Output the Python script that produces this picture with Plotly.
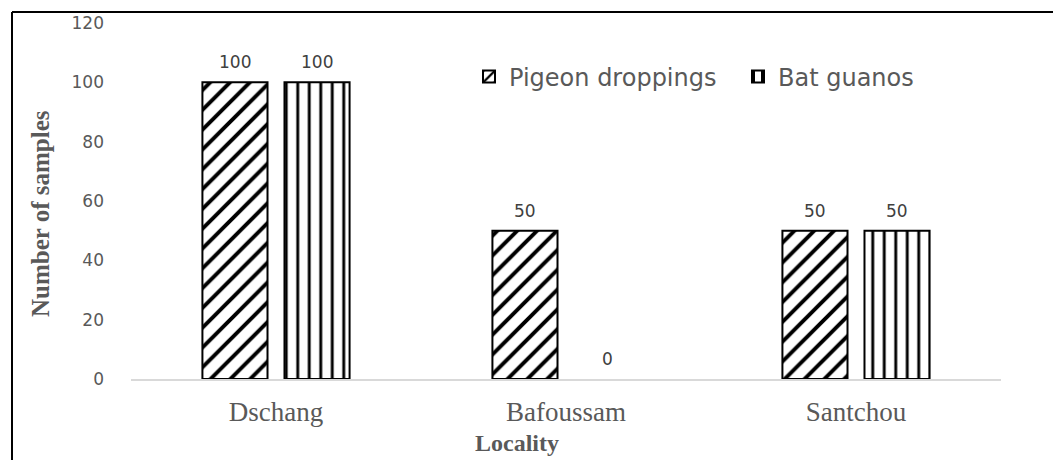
import plotly.graph_objects as go

categories = ["Dschang", "Bafoussam", "Santchou"]
pigeon = [100, 50, 50]
bat = [100, 0, 50]
series_names = ["Pigeon droppings", "Bat guanos"]
y_ticks = [0, 20, 40, 60, 80, 100, 120]

W, H = 1053, 460
L, R, T, B = 131, 52, 23, 81
PW, PH = W - L - R, H - T - B

def px_x(x):
    return (x - L) / PW

def px_y(y):
    return 1 - (y - T) / PH

BARGAP, GROUPGAP = 0.434, 0.207
slot = PW / len(categories)
bar_slot = slot * (1 - BARGAP) / 2
shift = bar_slot / 2

fig = go.Figure()
fig.add_trace(go.Bar(
    x=categories, y=pigeon, name=series_names[0],
    marker=dict(color="white", line=dict(color="black", width=[2 if v else 0 for v in pigeon]),
                pattern=dict(shape="/", fgcolor="black", bgcolor="white",
                             size=14, solidity=0.28, fillmode="replace")),
))
fig.add_trace(go.Bar(
    x=categories, y=bat, name=series_names[1],
    marker=dict(color="white", line=dict(color="black", width=[2 if v else 0 for v in bat]),
                pattern=dict(shape="|", fgcolor="black", bgcolor="white",
                             size=11.5, solidity=0.25, fillmode="replace")),
))

annotations = []
for vals, sgn in ((pigeon, -1), (bat, 1)):
    for c, v in zip(categories, vals):
        annotations.append(dict(
            x=c, y=v, xref="x", yref="y", text=str(v), showarrow=False,
            xshift=sgn * shift, yshift=20, xanchor="center", yanchor="middle",
            font=dict(family="DejaVu Sans", size=17, color="#404040")))

annotations += [
    dict(text="<b>Number of samples</b>", xref="paper", yref="paper",
         x=px_x(40), y=px_y(214), textangle=-90, showarrow=False,
         xanchor="center", yanchor="middle",
         font=dict(family="Liberation Serif", size=25, color="#595959")),
    dict(text="<b>Locality</b>", xref="paper", yref="paper",
         x=px_x(517), y=px_y(443), showarrow=False,
         xanchor="center", yanchor="middle",
         font=dict(family="Liberation Serif", size=24, color="#595959")),
]

fig.update_layout(
    width=W, height=H,
    margin=dict(l=L, r=R, t=T, b=B),
    paper_bgcolor="white", plot_bgcolor="white",
    barmode="group", bargap=BARGAP, bargroupgap=GROUPGAP,
    showlegend=True,
    legend=dict(orientation="h", x=px_x(469), y=px_y(77), xanchor="left", yanchor="middle",
                font=dict(family="DejaVu Sans", size=24, color="#595959"),
                bgcolor="rgba(0,0,0,0)", entrywidth=224, entrywidthmode="pixels"),
    xaxis=dict(showgrid=False, showline=True, linecolor="#d9d9d9", linewidth=2,
               ticks="", ticklabelstandoff=8,
               tickfont=dict(family="Liberation Serif", size=27, color="#595959")),
    yaxis=dict(range=[0, 120], tickvals=y_ticks, showgrid=False, showline=False,
               zeroline=False, ticks="", ticklabelstandoff=26,
               tickfont=dict(family="DejaVu Sans", size=17, color="#595959")),
    annotations=annotations,
    shapes=[
        dict(type="line", xref="paper", yref="paper", x0=px_x(12), x1=px_x(1053),
             y0=px_y(12), y1=px_y(12), line=dict(color="black", width=2)),
        dict(type="line", xref="paper", yref="paper", x0=px_x(12), x1=px_x(12),
             y0=px_y(12), y1=px_y(460), line=dict(color="black", width=2)),
    ],
)

fig.write_html("out.html", config={"displayModeBar": False},
               post_script="document.body.style.margin='0';")
